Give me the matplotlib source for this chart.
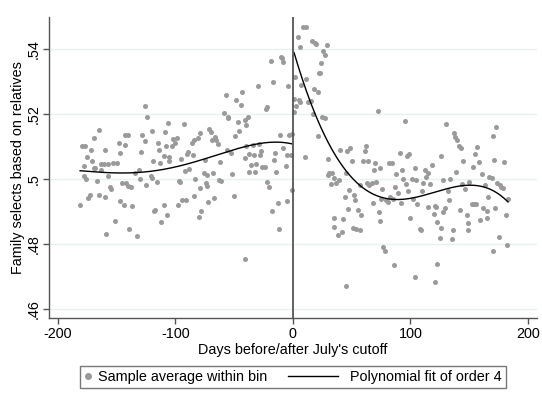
import numpy as np
import matplotlib
matplotlib.use("Agg")
import matplotlib.pyplot as plt
from matplotlib.lines import Line2D
from matplotlib.legend_handler import HandlerLine2D

plt.rcParams['font.family'] = ['Liberation Sans', 'DejaVu Sans']

# binned averages before the cutoff (day, share)
days_pre = [-181, -179, -177, -178, -178, -176, -175, -174, -173, -172, -171, -169, -169, -168,
            -167, -165, -165, -163, -161, -163, -160, -160, -159, -157, -157, -156, -155, -153,
            -151, -150, -148, -147, -147, -145, -144, -143, -143, -142, -140, -140, -138, -137,
            -139, -133, -134, -131, -130, -129, -128, -126, -126, -125, -124, -121, -120, -120,
            -119, -118, -117, -116, -115, -114, -113, -112, -110, -110, -109, -108, -107, -106,
            -105, -105, -103, -102, -100, -99, -98, -97, -96, -95, -94, -93, -92, -90, -89, -91,
            -88, -86, -85, -84, -84, -83, -81, -80, -79, -79, -78, -76, -75, -74, -73, -73, -72,
            -71, -70, -69, -68, -67, -66, -65, -64, -63, -62, -61, -59, -57, -56, -55, -55, -53,
            -52, -50, -49, -48, -47, -46, -44, -43, -41, -41, -40, -40, -38, -37, -37, -36, -34,
            -33, -32, -31, -30, -29, -28, -27, -26, -24, -23, -22, -22, -20, -19, -18, -17, -16,
            -15, -14, -13, -12, -11, -10, -9, -8, -8, -6, -5, -5, -4, -3, -2, -1, -41, -1]
share_pre = [.4921, .5101, .5101, .5039, .5009, .5000, .5069, .4942, .4952, .5089, .5054, .5126,
             .5035, .5035, .4993, .4950, .5150, .5046, .5046, .5027, .5089, .4945, .4832, .5045,
             .5009, .4976, .4968, .5050, .4870, .5050, .5110, .5080, .4931, .4987, .4921, .5135,
             .5103, .4987, .5136, .4979, .4976, .4917, .4848, .4825, .5018, .5028, .4999, .5083,
             .5134, .5224, .5118, .4981, .5190, .5009, .5004, .5146, .5055, .4901, .4905, .4992,
             .5111, .5089, .5050, .4868, .4920, .5071, .5144, .5102, .4889, .5171, .5055, .5069,
             .5100, .5122, .5109, .5125, .4921, .4994, .4991, .5060, .4937, .5168, .5025, .5076,
             .5083, .4937, .5030, .5111, .5073, .5120, .4947, .5000, .5125, .4884, .5140, .4971,
             .4901, .5019, .5058, .4987, .5011, .4979, .4928, .5153, .5145, .5120, .5017, .4943,
             .5130, .5120, .5107, .4997, .5053, .4995, .5203, .5257, .5089, .5191, .5186, .5079,
             .5014, .4948, .5132, .5242, .5176, .5147, .5228, .5267, .5063, .5180, .5166, .5100,
             .5191, .5077, .5022, .5043, .5103, .5073, .5022, .5046, .5287, .5107, .5073, .5086,
             .5038, .5037, .5216, .5220, .4990, .4976, .5363, .4903, .5299, .5058, .5079, .5022,
             .4927, .4846, .5135, .5375, .5370, .5359, .5094, .5040, .4931, .5074, .5285, .5135,
             .5074, .4966, .4755, .5137]

# binned averages after the cutoff (day, share)
days_post = [1, 1, 2, 3, 4, 5, 6, 6, 7, 9, 11, 10, 11, 13, 15, 16, 17, 18, 19, 20, 21, 21, 22, 23,
             24, 25, 26, 27, 27, 29, 30, 30, 31, 32, 33, 35, 35, 35, 37, 38, 39, 40, 42, 43, 44, 45,
             45, 46, 47, 48, 49, 50, 51, 52, 53, 54, 55, 57, 57, 58, 60, 61, 62, 63, 64, 65, 67, 68,
             69, 70, 71, 72, 73, 74, 74, 75, 76, 77, 78, 79, 81, 82, 83, 84, 85, 86, 87, 88, 89, 91,
             92, 93, 94, 95, 96, 97, 98, 99, 100, 101, 102, 104, 104, 105, 106, 108, 109, 110, 111,
             112, 113, 115, 115, 117, 118, 120, 121, 122, 123, 121, 123, 125, 126, 126, 128, 128, 129,
             130, 132, 133, 134, 135, 136, 137, 138, 139, 140, 141, 142, 143, 144, 145, 146, 148, 149,
             149, 150, 152, 153, 154, 155, 156, 157, 158, 159, 161, 162, 163, 165, 165, 166, 167, 169,
             170, 170, 171, 172, 173, 174, 175, 176, 177, 179, 180, 181, 182, 183]
share_post = [.5206, .5247, .5314, .5224, .5437, .5242, .5237, .5406, .5288, .5467, .5467, .5069,
              .5308, .5237, .5240, .5423, .5201, .5275, .5418, .5416, .5268, .5132, .5326, .5326,
              .5357, .5191, .5394, .5381, .5186, .5411, .5060, .5012, .5017, .4985, .5017, .5002,
              .4879, .4852, .4989, .4828, .4997, .5089, .4838, .4876, .4946, .5019, .4670, .5087,
              .4907, .4966, .5095, .5056, .4849, .4951, .4936, .4846, .4905, .4981, .4844, .4890,
              .5056, .5087, .5101, .4987, .5056, .4982, .4989, .4925, .5028, .5050, .4992, .5210,
              .4900, .4872, .5033, .4938, .4968, .4792, .4780, .4936, .4930, .5050, .4944, .5048,
              .4938, .4736, .4974, .5015, .4956, .5081, .4927, .5028, .4999, .5179, .4985, .5071,
              .4962, .5077, .4879, .4999, .4938, .4700, .5033, .4997, .4923, .4846, .4844, .4964,
              .4989, .5028, .5007, .5019, .4915, .4985, .5043, .4893, .4917, .4915, .4739, .4685,
              .4869, .4818, .4849, .5071, .4997, .4900, .4910, .5169, .4964, .4936, .4999, .4815,
              .4844, .5140, .5130, .5022, .5120, .5101, .4905, .5094, .4985, .5056, .4968, .4890,
              .4866, .4844, .4992, .4923, .5038, .4923, .5077, .4923, .5099, .5053, .4874, .5015,
              .4910, .4982, .4903, .4879, .4946, .5005, .5002, .5132, .4780, .5058, .4910, .5160,
              .4987, .4821, .4982, .4976, .4971, .5053, .4890, .4797, .4938]

y_ticks = [.46, .48, .50, .52, .54]
y_labels = ['.46', '.48', '.5', '.52', '.54']
x_ticks = [-200, -100, 0, 100, 200]

dot_color = '#9a9a9a'
axis_color = '#555555'
fs = 10.4


class LongLineHandler(HandlerLine2D):
    """Legend key whose line reaches back into the column gap (lengths in points)."""
    def __init__(self, back, trim, **kw):
        super().__init__(**kw)
        self.back = back
        self.trim = trim

    def create_artists(self, legend, orig_handle, xdescent, ydescent,
                       width, height, fontsize, trans):
        y = height / 2 - ydescent
        line = Line2D([-self.back - xdescent, width - self.trim - xdescent], [y, y],
                      color=orig_handle.get_color(), lw=orig_handle.get_linewidth())
        line.set_transform(trans)
        return [line]


fig = plt.figure(figsize=(5.42, 3.98), dpi=100)
ax = fig.add_axes([0.0899, 0.2003, 0.9014, 0.7562])

ax.scatter(days_pre, share_pre, s=13, color=dot_color, linewidths=0, zorder=2)
ax.scatter(days_post, share_post, s=13, color=dot_color, linewidths=0, zorder=2)

# 4th-order polynomial on each side of the cutoff
for d, s in [(days_pre, share_pre), (days_post, share_post)]:
    coef = np.polyfit(d, s, 4)
    xs = np.linspace(min(d), max(d), 300)
    ax.plot(xs, np.polyval(coef, xs), color='black', lw=1.0, zorder=3)

ax.axvline(0, color=axis_color, lw=1.3, zorder=4)

ax.set_xlim(-207.7, 207.9)
ax.set_ylim(0.45724, 0.54964)
ax.set_xticks(x_ticks)
ax.set_xticklabels([str(t) for t in x_ticks])
ax.set_yticks(y_ticks)
ax.set_yticklabels(y_labels, rotation=90, va='center')
ax.grid(axis='y', color='#e8f0f2', lw=1.0, zorder=0)
ax.grid(axis='x', visible=False)

for side in ['top', 'right']:
    ax.spines[side].set_visible(False)
for side in ['left', 'bottom']:
    ax.spines[side].set_color(axis_color)
    ax.spines[side].set_linewidth(1.0)
ax.tick_params(direction='out', length=4, width=1.0, color=axis_color,
               labelsize=fs, labelcolor='black', pad=2)

ax.set_xlabel("Days before/after July's cutoff", fontsize=fs, labelpad=1.5)
ax.set_ylabel("Family selects based on relatives", fontsize=fs, labelpad=1)

dot_key = Line2D([], [], ls='none', marker='o', markersize=4, color=dot_color)
fit_key = Line2D([], [], color='black', lw=1.0)
leg = fig.legend([dot_key, fit_key], ['Sample average within bin', 'Polynomial fit of order 4'],
                 ncol=2, loc='center', bbox_to_anchor=(0.5406, 0.0528), fontsize=fs,
                 frameon=True, fancybox=False, edgecolor=axis_color, handlelength=0.5,
                 columnspacing=4.74, handletextpad=0.477, borderpad=0.3, borderaxespad=0,
                 handler_map={fit_key: LongLineHandler(back=34.5, trim=3.7)})
leg.get_frame().set_linewidth(1.0)

fig.savefig('out.png', dpi=100)
